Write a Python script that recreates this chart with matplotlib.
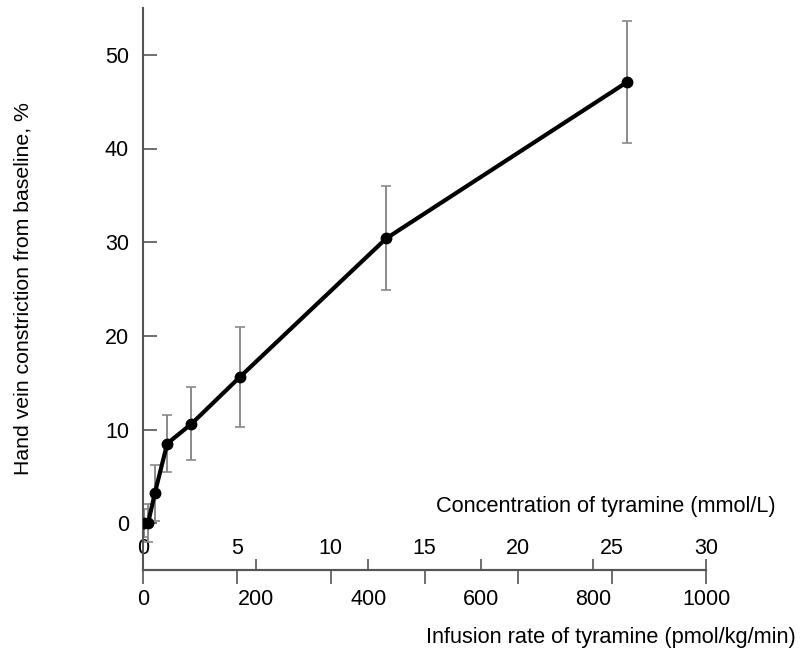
import matplotlib
matplotlib.use("Agg")
import matplotlib.pyplot as plt

plt.rcParams['font.family'] = ['Liberation Sans', 'DejaVu Sans']

# infusion rate (pmol/kg/min) vs hand vein constriction (%)
rate = [2.5, 9, 21, 43, 86, 172, 432, 860]
constriction = [0.0, 0.0, 3.2, 8.5, 10.6, 15.6, 30.4, 47.1]
err = [1.5, 2.0, 3.0, 3.0, 3.9, 5.3, 5.55, 6.5]

rate_ticks = [0, 200, 400, 600, 800, 1000]
conc_ticks = [0, 5, 10, 15, 20, 25, 30]
y_ticks = [0, 10, 20, 30, 40, 50]

# 30 mmol/L lines up with 1000 pmol/kg/min
conc_per_rate = 30 / 1000

axis_col = '#555555'

fig = plt.figure(figsize=(8.01, 6.54), dpi=100)
ax = fig.add_axes([143 / 801, 1 - 570 / 654, (706 - 143) / 801, (570 - 8) / 654])

ax.errorbar(rate, constriction, yerr=err, fmt='none', ecolor='#8a8a8a',
            elinewidth=1.4, capsize=3.5, capthick=1.2, zorder=2)
ax.plot(rate, constriction, color='black', lw=3, marker='o', ms=7.5, zorder=3)

ax.set_xlim(0, 1000)
ax.set_ylim(-5, 55)
ax.set_xticks(rate_ticks)
ax.set_yticks(y_ticks)

for s in ['top', 'right']:
    ax.spines[s].set_visible(False)
for s in ['left', 'bottom']:
    ax.spines[s].set_color(axis_col)
    ax.spines[s].set_linewidth(1.5)

ax.tick_params(axis='x', direction='in', length=8, width=1.2, color=axis_col,
               labelsize=15.5, pad=14)
ax.tick_params(axis='y', direction='in', length=10, width=1.2, color=axis_col,
               labelsize=15.5, pad=10)

ax.set_ylabel('Hand vein constriction from baseline, %', fontsize=15.3)
ax.yaxis.set_label_coords(-0.197, 0.5)
ax.set_xlabel('Infusion rate of tyramine (pmol/kg/min)', fontsize=15.7)
ax.xaxis.set_label_coords(0.831, -0.101)

sec = ax.secondary_xaxis(0.0, functions=(lambda r: r * conc_per_rate,
                                         lambda c: c / conc_per_rate))
sec.set_alignment('top')
sec.set_xticks(conc_ticks)
sec.spines['top'].set_color(axis_col)
sec.spines['top'].set_linewidth(1.5)
sec.tick_params(axis='x', direction='in', length=10, width=1.2, color=axis_col,
                labelsize=15.5, pad=8)
sec.set_xlabel('Concentration of tyramine (mmol/L)', fontsize=15.7)
sec.xaxis.set_label_coords(0.822, 0.103, transform=ax.transAxes)

fig.savefig('out.png', dpi=100)
